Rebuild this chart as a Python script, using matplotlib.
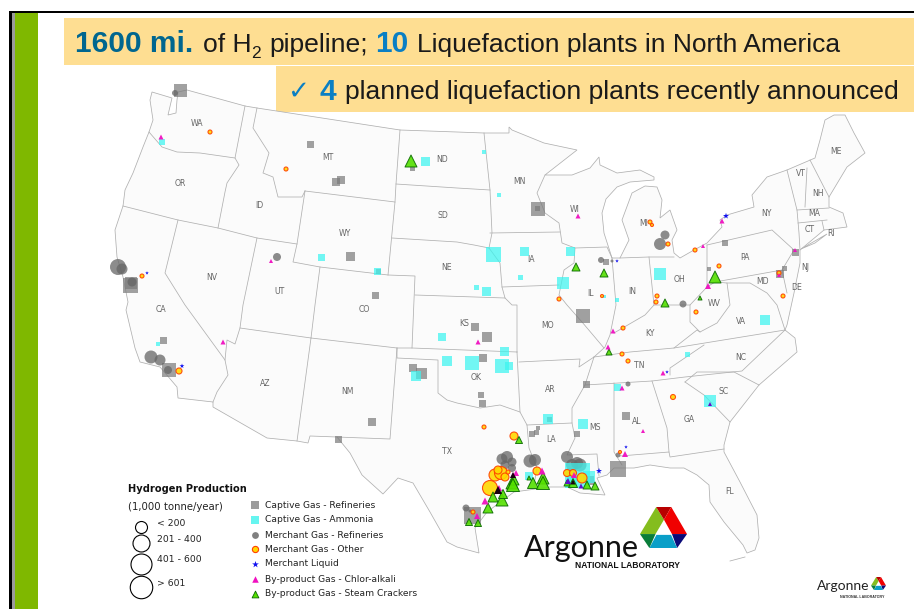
import matplotlib
matplotlib.use("Agg")
import matplotlib.pyplot as plt
from matplotlib.patches import Polygon, Rectangle

# map is traced in screen-like units: x right, y down, 914 x 609
LAND = [(152,92),(150,100),(153,120),(149,132),(143,147),(133,173),(125,190),(123,206),(115,230),(117,257),
        (123,277),(128,302),(126,310),(135,348),(140,362),(160,367),(177,387),(178,398),(213,402),(213,407),
        (267,438),(297,441),(308,443),(310,436),(337,437),(350,453),(362,475),(383,494),(398,478),(413,483),
        (430,512),(447,542),(457,547),(479,553),(475,528),(487,512),(514,492),(550,487),(567,487),(580,493),
        (605,495),(597,478),(607,475),(614,468),(634,468),(650,465),(670,468),(684,468),(697,475),(709,485),
        (710,502),(724,522),(743,545),(747,553),(755,550),(759,538),(757,515),(740,482),(724,452),(724,445),
        (730,422),(759,385),(797,352),(795,338),(785,330),(787,325),(794,293),(800,263),(800,250),(824,230),
        (847,227),(843,213),(829,207),(829,197),(847,167),(865,153),(854,133),(845,115),(834,115),(825,120),
        (820,140),(815,158),(787,170),(767,177),(752,195),(754,207),(727,215),(720,220),(722,227),(707,243),
        (694,250),(680,258),(674,253),(672,240),(677,230),(670,210),(660,218),(662,200),(657,187),(645,186),
        (632,193),(622,220),(629,240),(620,258),(612,258),(604,233),(602,213),(606,199),(617,187),(630,182),
        (654,180),(654,177),(640,170),(617,173),(600,165),(599,157),(590,168),(572,175),(545,175),(577,150),
        (544,143),(512,130),(509,127),(509,133),(484,133),(457,132),(400,130),(257,108),(245,106),(187,90),
        (178,92),(177,100),(176,113),(168,115),(172,98)]
LONG_ISLAND = [(801,249),(827,234),(815,243)]

BORDERS = [
    [(149,132),(162,147),(177,152),(200,153),(235,158)],
    [(245,106),(235,158),(239,165),(227,183),(225,192),(218,228)],
    [(257,108),(253,128),(269,153),(263,173),(273,177),(278,197),(302,197),(305,191)],
    [(123,206),(178,220),(218,228),(257,238),(297,244)],
    [(305,191),(297,244),(293,262),(320,267),(388,275),(415,276),(412,348)],
    [(305,191),(395,202),(388,275)],
    [(400,130),(396,184),(395,202)],
    [(257,238),(243,305),(240,328),(235,344),(227,340),(225,360),(228,375),(217,392),(213,402)],
    [(178,220),(165,273),(185,305),(225,360)],
    [(320,267),(315,305),(311,338)],
    [(240,328),(311,338),(397,348),(412,348),(517,352)],
    [(311,338),(297,441)],
    [(397,348),(390,439),(337,437)],
    [(397,348),(397,358),(438,360),(438,393),(447,400),(457,403),(480,408),(500,405),(520,412),
     (527,425),(529,448),(537,468),(534,485)],
    [(415,295),(505,298)],
    [(519,362),(580,359),(579,367),(594,357),(585,385),(572,408),(572,423),(575,438),(567,455),(597,454),(599,476)],
    [(517,352),(520,412)],
    [(517,352),(517,305),(512,305),(505,298),(502,287),(500,263),(489,248),(474,245),(457,242),(392,238)],
    [(527,425),(572,423)],
    [(585,385),(652,381),(685,377),(742,371),(785,330)],
    [(594,357),(630,352),(674,348),(785,330)],
    [(614,383),(614,452),(622,465)],
    [(620,456),(669,452),(670,457),(724,449)],
    [(652,381),(667,428),(669,452)],
    [(685,382),(704,395),(730,422)],
    [(685,382),(697,372),(734,372),(759,385)],
    [(670,375),(670,368),(704,345)],
    [(396,184),(457,188),(490,190)],
    [(484,133),(490,190),(492,233),(489,248)],
    [(490,233),(560,232)],
    [(545,175),(537,193),(545,213),(559,223),(562,243),(575,248),(607,247),(612,258)],
    [(575,248),(574,263),(564,270),(559,295),(567,305),(582,322),(604,348),(594,357)],
    [(502,287),(559,285)],
    [(612,258),(616,305),(610,335),(605,347),(604,348)],
    [(614,333),(645,315),(654,305),(684,305),(690,305),(707,287),(707,245)],
    [(620,258),(649,257),(674,257)],
    [(649,257),(654,305)],
    [(690,305),(690,322),(700,332),(717,323),(730,305),(727,283),(715,282),(707,287)],
    [(674,348),(697,330),(700,332)],
    [(715,282),(782,270)],
    [(707,245),(772,230),(794,250),(782,270),(787,293)],
    [(727,283),(750,283),(767,293),(777,305),(785,330)],
    [(787,170),(797,210),(799,233),(800,250)],
    [(797,210),(829,208)],
    [(807,168),(805,207)],
    [(810,160),(829,197)],
    [(798,223),(827,220)],
    [(822,221),(824,230)],
    [(730,561),(745,557)],
]

STATE_NAMES = ["WA","OR","ID","MT","WY","ND","SD","NE","NV","UT","CO","CA","AZ","NM","TX","KS","OK","MN","WI","IA",
               "IL","IN","OH","MI","MO","AR","LA","MS","AL","GA","FL","SC","NC","TN","KY","WV","VA","PA","NY","ME",
               "VT","NH","MA","CT","RI","NJ","DE","MD"]
STATE_X = [197,180,259,328,345,442,443,447,212,280,364,161,265,347,447,464,476,519,575,531,
           591,632,679,644,548,550,551,595,637,689,730,724,741,639,650,714,741,745,767,836,
           801,818,814,810,831,805,797,763]
STATE_Y = [124,184,205,157,233,160,215,268,278,292,309,310,383,392,452,324,378,182,210,259,
           293,292,279,223,326,389,439,427,422,419,491,391,357,366,333,303,321,257,214,152,
           173,193,213,229,233,267,288,282]

# production is in (marker width)^2 units
refinery_x = [180,310,336,341,412,350,375,378,130,131,163,169,372,338,413,421,538,537,606,725,709,780,784,795,
              583,475,487,483,481,482,586,549,538,536,532,577,626,618,472,589]
refinery_y = [90,144,182,180,168,256,295,271,285,283,340,370,422,439,368,373,209,208,262,243,269,274,268,252,
              316,327,337,358,395,403,384,419,428,432,434,434,416,469,515,480]
refinery_p = [169,49,64,64,25,81,49,25,225,144,49,196,64,49,64,121,196,25,36,36,16,64,25,49,
              196,64,100,64,36,49,49,25,16,25,36,36,64,256,289,81]

ammonia_x = [162,425,321,377,484,499,493,524,570,520,476,486,563,660,617,604,158,442,447,416,
             504,472,502,509,765,687,617,710,548,583,529,577,572,589]
ammonia_y = [142,161,257,271,152,195,254,251,251,277,287,291,283,274,300,296,344,337,361,376,
             351,363,366,366,320,354,387,401,419,424,476,475,480,477]
ammonia_p = [36,81,49,49,16,16,225,81,81,25,25,81,144,144,16,9,16,64,100,100,
             81,196,196,64,100,25,49,144,100,100,64,625,100,144]

merchant_ref_x = [175,118,122,132,277,151,160,168,665,660,601,612,683,628,618,466,470,507,502,512,505,512,530,535,567,572,580,577]
merchant_ref_y = [93,267,269,282,257,357,360,370,235,244,260,261,304,384,455,508,511,457,459,462,465,468,461,460,457,465,465,463]
merchant_ref_p = [36,256,121,81,64,169,121,64,81,144,36,9,49,25,25,49,9,144,121,81,81,64,169,144,144,144,169,144]

merchant_other_x = [210,286,142,179,650,652,668,695,719,657,656,602,559,779,783,696,623,622,628,673,484,514,620,537,
                    495,501,498,505,490,508,473,567,582,573]
merchant_other_y = [132,169,276,371,222,225,244,250,266,296,302,296,299,273,296,312,328,354,361,397,427,436,452,471,
                    475,473,470,477,488,472,512,473,478,473]
merchant_other_p = [16,16,16,36,16,9,16,16,16,16,16,9,16,16,16,16,16,16,16,25,16,64,9,64,
                    144,169,64,64,225,16,16,49,100,49]

liquid_x = [147,182,617,726,667,626,599]
liquid_y = [273,366,261,216,372,447,471]
liquid_p = [9,16,9,25,9,9,25]

chlor_x = [161,271,223,578,722,703,708,795,779,478,613,608,663,622,643,625,516,542,485,477,499,513,574]
chlor_y = [137,261,342,216,221,246,286,250,275,342,331,347,373,388,431,454,473,471,501,516,488,475,475]
chlor_p = [25,16,25,25,25,16,36,16,16,25,25,25,25,25,16,36,36,49,49,36,36,25,36]

# chlor-alkali sitting on ammonia shows violet, on crackers nearly black
chlor_on_ammonia_x = [710,568,581]
chlor_on_ammonia_y = [404,481,486]
chlor_on_ammonia_p = [16,36,25]
chlor_on_cracker_x = [498,513,573]
chlor_on_cracker_y = [490,475,482]
chlor_on_cracker_p = [64,36,25]

cracker_x = [411,576,604,715,700,665,609,519,488,469,478,502,503,493,512,514,513,533,543,543,595,587,573,567,529]
cracker_y = [161,267,273,277,298,303,352,440,508,522,523,500,494,497,483,480,485,483,478,483,486,485,483,483,478]
cracker_p = [144,64,64,144,16,64,36,49,100,49,49,144,81,100,144,100,169,121,144,169,64,64,81,36,16]

SERIES_NAMES = ["Captive Gas - Refineries","Captive Gas - Ammonia","Merchant Gas - Refineries","Merchant Gas - Other",
                "Merchant Liquid","By-product Gas - Chlor-alkali","By-product Gas - Steam Crackers"]
BUBBLE_LABELS = ["< 200","201 - 400","401 - 600","> 601"]
BUBBLE_SIZES = [144,289,441,506]

# big argonne logo outline, 0-1 across and down
LOGO_PARTS = [
    ([(.345,0),(0,.66),(.33,.66),(.51,.31)], "#84BD1E"),
    ([(.345,0),(.665,0),(.51,.31)], "#B80000"),
    ([(.665,0),(1,.66),(.68,.66),(.51,.31)], "#F00000"),
    ([(.68,.66),(1,.66),(.79,1)], "#0A0A78"),
    ([(.2,1),(.35,.68),(.66,.68),(.79,1)], "#0A9FC8"),
    ([(0,.66),(.33,.66),(.2,1)], "#0A7D3A"),
]


def draw_logo(ax, x0, y0, w, h):
    for pts, col in LOGO_PARTS:
        ax.add_patch(Polygon([(x0 + px * w, y0 + py * h) for px, py in pts], closed=True, fc=col, ec="none", zorder=6))


def main():
    plt.rcParams["font.family"] = ["DejaVu Sans"]
    fig = plt.figure(figsize=(9.14, 6.09), dpi=100)
    ax = fig.add_axes([0, 0, 1, 1])
    ax.set_xlim(0, 914)
    ax.set_ylim(609, 0)
    ax.axis("off")

    # slide frame
    ax.add_patch(Rectangle((9, 11), 905, 2, fc="black", ec="none"))
    ax.add_patch(Rectangle((9, 11), 2.5, 598, fc="black", ec="none"))
    ax.add_patch(Rectangle((11.5, 13), 3.5, 596, fc="#9A9A9A", ec="none"))
    ax.add_patch(Rectangle((15, 13), 23, 596, fc="#7FB800", ec="none"))
    ax.add_patch(Rectangle((64, 18), 850, 47, fc="#FEDE92", ec="none"))
    ax.add_patch(Rectangle((276, 66), 638, 46, fc="#FEDE92", ec="none"))

    arial = "Liberation Sans"
    ink = "#1A1A1A"
    ax.text(75, 52, "1600 mi.", family=arial, weight="bold", size=21.5, color="#00668F")
    ax.text(203, 52, "of H", family=arial, size=19.05, color=ink)
    ax.text(251, 58, "2", family=arial, size=12.5, color=ink)
    ax.text(269, 52, "pipeline;", family=arial, size=19.05, color=ink)
    ax.text(375, 52, "10", family=arial, weight="bold", size=21.5, color="#0A7FC4")
    ax.text(417, 52, "Liquefaction plants in North America", family=arial, size=19, color=ink)
    ax.text(287, 99, "\u2713", family="DejaVu Sans", size=19, color="#0A7FC4")
    ax.text(320, 99.5, "4", family=arial, weight="bold", size=21.5, color="#0A7FC4")
    ax.text(345, 99.5, "planned liquefaction plants recently announced", family=arial, size=19.05, color=ink)

    # map
    ax.add_patch(Polygon(LAND, closed=True, fc="#FBFBFB", ec="#B0B0B0", lw=0.55, zorder=1))
    ax.add_patch(Polygon(LONG_ISLAND, closed=True, fc="#FBFBFB", ec="#B0B0B0", lw=0.55, zorder=1))
    for line in BORDERS:
        ax.plot([p[0] for p in line], [p[1] for p in line], color="#B0B0B0", lw=0.55, zorder=2)
    for name, x, y in zip(STATE_NAMES, STATE_X, STATE_Y):
        ax.text(x, y, name, fontsize=5.6, color="#666666", ha="center", va="center", zorder=3)

    k = 0.72 ** 2
    ax.scatter(refinery_x, refinery_y, s=[p * k for p in refinery_p], marker="s", c="#7A7A7A", alpha=0.7, lw=0, zorder=4)
    ax.scatter(merchant_ref_x, merchant_ref_y, s=[p * k for p in merchant_ref_p], marker="o", c="#666666", alpha=0.75, lw=0, zorder=4.1)
    ax.scatter(ammonia_x, ammonia_y, s=[p * k for p in ammonia_p], marker="s", c="#3CF5F0", alpha=0.72, lw=0, zorder=4.2)
    ax.scatter(merchant_other_x, merchant_other_y, s=[p * k for p in merchant_other_p], marker="o", c="#FFD800",
               edgecolors="#FF4000", lw=0.8, alpha=0.9, zorder=4.3)
    ax.scatter(liquid_x, liquid_y, s=[p * k * 1.6 for p in liquid_p], marker="*", c="#1010F0", lw=0, zorder=4.4)
    ax.scatter(cracker_x, cracker_y, s=[p * k for p in cracker_p], marker="^", c="#55E000",
               edgecolors="#0A6A00", lw=0.7, alpha=0.9, zorder=4.5)
    ax.scatter(chlor_x, chlor_y, s=[p * k for p in chlor_p], marker="^", c="#F010C0", lw=0, alpha=0.95, zorder=4.6)
    ax.scatter(chlor_on_ammonia_x, chlor_on_ammonia_y, s=[p * k for p in chlor_on_ammonia_p], marker="^", c="#6010C8", lw=0, zorder=4.6)
    ax.scatter(chlor_on_cracker_x, chlor_on_cracker_y, s=[p * k for p in chlor_on_cracker_p], marker="^", c="#180010", lw=0, zorder=4.6)

    # legend
    ax.text(128, 489, "Hydrogen Production", fontsize=7.15, weight="bold", va="center", color="#111111")
    ax.text(128, 507, "(1,000 tonne/year)", fontsize=7.25, va="center", color="#222222")
    bubble_y = [527, 543, 564, 587]
    text_y = [523, 540, 560, 584]
    for size, label, by, ty in zip(BUBBLE_SIZES, BUBBLE_LABELS, bubble_y, text_y):
        ax.scatter([141], [by], s=size * k, marker="o", fc="white", ec="black", lw=0.8, zorder=4)
        ax.text(157, ty, label, fontsize=6.7, va="center", color="#222222")

    legend_y = [505, 520, 535, 549, 564, 579, 594]
    styles = [
        dict(marker="s", s=26, c="#9C9C9C", lw=0),
        dict(marker="s", s=26, c="#66F5F0", lw=0),
        dict(marker="o", s=24, c="#808080", lw=0),
        dict(marker="o", s=20, c="#FFD800", edgecolors="#FF4000", lw=0.8),
        dict(marker="*", s=26, c="#1010F0", lw=0),
        dict(marker="^", s=22, c="#F010C0", lw=0),
        dict(marker="^", s=24, c="#55E000", edgecolors="#0A6A00", lw=0.6),
    ]
    for name, y, st in zip(SERIES_NAMES, legend_y, styles):
        ax.scatter([255], [y], zorder=4, **st)
        ax.text(265, y, name, fontsize=6.6, va="center", color="#222222")

    # logos
    draw_logo(ax, 640, 507, 47, 41)
    ax.text(524, 557, "Argonne", family="Lato", size=22, color="#111111", zorder=6)
    ax.text(575, 568, "NATIONAL LABORATORY", family="Liberation Sans", weight="bold", size=6.15, color="#111111", zorder=6)
    draw_logo(ax, 871, 577, 15, 13)
    ax.text(817, 590.5, "Argonne", family="Lato", size=10, color="#222222", zorder=6)
    ax.text(840, 598, "NATIONAL LABORATORY", family="Liberation Sans", weight="bold", size=2.6, color="#333333", zorder=6)

    fig.savefig("out.png", dpi=100, facecolor="white")


if __name__ == "__main__":
    main()
